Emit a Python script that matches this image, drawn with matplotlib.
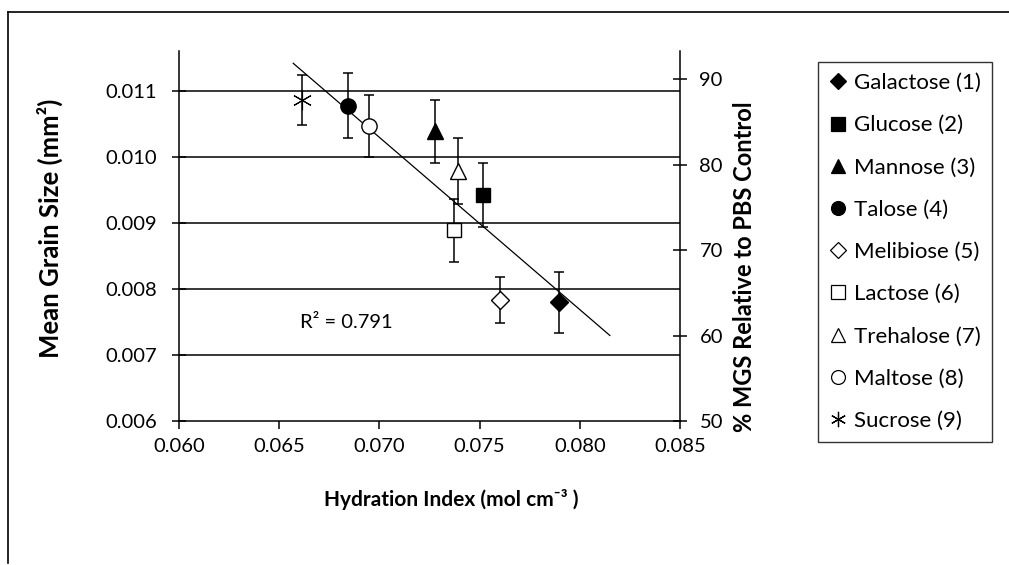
import matplotlib
matplotlib.use("Agg")
import matplotlib.pyplot as plt
from matplotlib.lines import Line2D
from matplotlib.ticker import FormatStrFormatter
import numpy as np

plt.rcParams['font.family'] = ['Lato', 'DejaVu Sans']

# data
sugars = ["Galactose (1)", "Glucose (2)", "Mannose (3)", "Talose (4)", "Melibiose (5)",
          "Lactose (6)", "Trehalose (7)", "Maltose (8)", "Sucrose (9)"]
hydration = [0.07898, 0.07519, 0.07277, 0.06845, 0.07602, 0.07372, 0.07394, 0.06948, 0.06612]
mgs = [0.007797, 0.009419, 0.010383, 0.010774, 0.007837, 0.008887, 0.009780, 0.010468, 0.010860]
mgs_err = [0.00046, 0.00048, 0.00048, 0.00049, 0.00035, 0.00048, 0.00050, 0.00047, 0.00038]
markers = ["D", "s", "^", "o", "D", "s", "^", "o", (6, 2, 0)]
filled = [True, True, True, True, False, False, False, False, True]
trend_x = [0.0657, 0.0815]

fig = plt.figure(figsize=(10.09, 5.65), dpi=100)
ax = fig.add_axes([179/1009, 1-421/565, 501/1009, 370/565])

for x, y, e, m, f in zip(hydration, mgs, mgs_err, markers, filled):
    ms = {"D": 9.5, "s": 10.5, "^": 11, "o": 11}.get(m, 14)
    ax.errorbar(x, y, yerr=e, fmt="none", ecolor="black", elinewidth=1.1,
                capsize=3.7, capthick=1.1, zorder=3)
    ax.plot(x, y, marker=m, ms=ms, mec="black", mew=1.0 if m != (6, 2, 0) else 0.8,
            mfc="black" if f else "white", ls="none", zorder=4)

# linear trendline
coef = np.polyfit(hydration, mgs, 1)
pred = np.polyval(coef, hydration)
r2 = 1 - np.sum((np.array(mgs) - pred)**2) / np.sum((np.array(mgs) - np.mean(mgs))**2)
tx = np.array(trend_x)
ax.plot(tx, np.polyval(coef, tx), color="black", lw=0.9, zorder=2)
ax.text(0.06833, 0.00749, "R² = %.3f" % r2, ha="center", va="center", fontsize=14.5)

ax.set_xlim(0.060, 0.085)
ax.set_ylim(0.006, 0.0116)
ax.set_xticks(np.arange(0.060, 0.0851, 0.005))
ax.set_yticks(np.arange(0.006, 0.01101, 0.001))
ax.xaxis.set_major_formatter(FormatStrFormatter("%.3f"))
ax.yaxis.set_major_formatter(FormatStrFormatter("%.3f"))
ax.tick_params(axis="x", direction="out", length=6, width=1.1, labelsize=14.5, pad=6)
ax.tick_params(axis="y", direction="inout", length=10, width=1.1, labelsize=14.5, pad=11)
for yy in np.arange(0.007, 0.01101, 0.001):
    ax.axhline(yy, color="black", lw=1.1, zorder=1)
for s in ["top", "right"]:
    ax.spines[s].set_visible(False)
for s in ["left", "bottom"]:
    ax.spines[s].set_linewidth(1.1)

ax.set_ylabel("Mean Grain Size (mm²)", fontsize=18.5, fontweight="bold")
ax.yaxis.set_label_coords((50-179)/501, (421-228)/370)
ax.yaxis.label.set_va("center")
ax.set_xlabel("Hydration Index (mol cm⁻³ )", fontsize=15, fontweight="bold")
ax.xaxis.set_label_coords((451-179)/501, -(500-421)/370)
ax.xaxis.label.set_va("center")

ax2 = ax.twinx()
ax2.set_ylim(50, 93.3)
ax2.set_yticks([50, 60, 70, 80, 90])
ax2.tick_params(axis="y", direction="inout", length=10, width=1.1, labelsize=14.5, pad=9)
for s in ["top", "left", "bottom"]:
    ax2.spines[s].set_visible(False)
ax2.spines["right"].set_linewidth(1.1)
ax2.set_ylabel("% MGS Relative to PBS Control", fontsize=17, fontweight="bold")
ax2.yaxis.set_label_coords((745-179)/501, (421-267)/370)
ax2.yaxis.label.set_va("center")

handles = []
for m, f in zip(markers, filled):
    handles.append(Line2D([], [], marker=m, ls="none",
                          ms={"D": 8, "s": 10, "^": 10, "o": 10}.get(m, 11),
                          mec="black", mew=0.9, mfc="black" if f else "white"))
leg = fig.legend(handles, sugars, loc="upper left", bbox_to_anchor=(818/1009, 1-62/565),
                 frameon=True, fancybox=False, fontsize=16, labelspacing=1.0,
                 handlelength=0.8, handletextpad=0.3, borderpad=0.5, borderaxespad=0)
leg.get_frame().set_edgecolor("black")
leg.get_frame().set_linewidth(1.0)

# outer chart frame (top and left edges)
fig.add_artist(Line2D([8/1009, 8/1009], [1-12/565, 0.003], color="black", lw=1.2,
                      transform=fig.transFigure))
fig.add_artist(Line2D([8/1009, 1.0], [1-12/565, 1-12/565], color="black", lw=1.2,
                      transform=fig.transFigure))

fig.savefig("out.png", dpi=100)
